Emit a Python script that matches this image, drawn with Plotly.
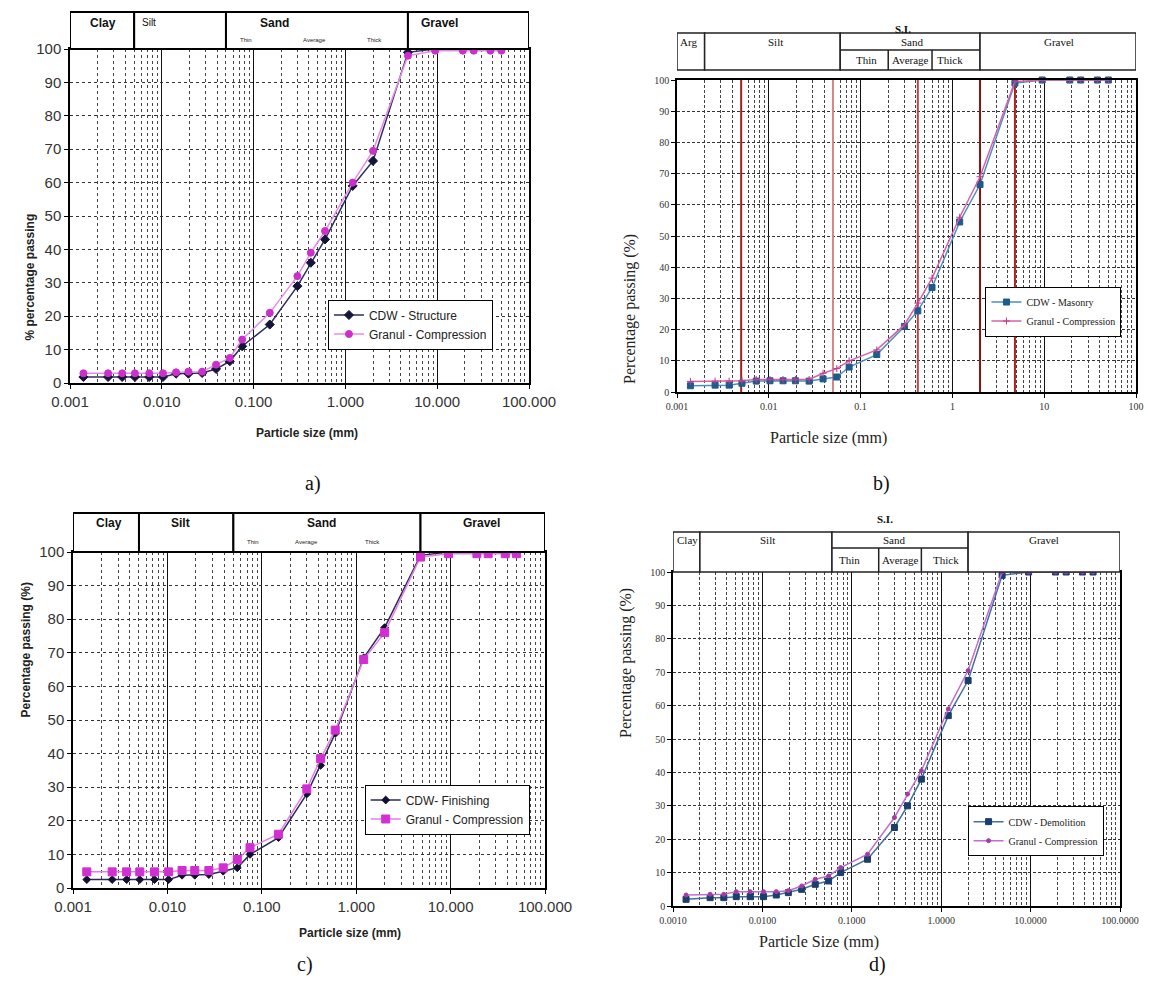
import math
import plotly.graph_objects as go

W, H = 1150, 989

# ---------------- data ----------------
sizes_mm = [0.0014, 0.0026, 0.0037, 0.0051, 0.0073, 0.0103, 0.0143, 0.0195, 0.0275,
            0.039, 0.055, 0.075, 0.15, 0.3, 0.42, 0.6, 1.2, 2.0, 4.8, 9.5, 19, 25, 38, 50]

a_cdw_structure = [1.8, 1.8, 1.8, 1.8, 1.8, 1.8, 2.8, 2.8, 3.0, 4.2, 6.5, 11, 17.5, 29, 36, 43,
                   59, 66.5, 99, 100, 100, 100, 100, 100]
a_granul_compression = [2.9, 2.9, 2.9, 2.9, 2.9, 2.9, 3.2, 3.4, 3.4, 5.5, 7.5, 13, 21, 32, 39,
                        45.5, 60, 69.5, 98, 99.5, 99.5, 99.5, 99.5, 99.5]

b_cdw_masonry = [2.0, 2.2, 2.2, 2.8, 3.5, 3.6, 3.6, 3.6, 3.5, 4.2, 4.8, 8, 12, 21, 26, 33.5,
                 54.5, 66.5, 99, 100, 100, 100, 100, 100]
b_granul_compression = [3.4, 3.5, 3.5, 3.6, 4.0, 4.0, 4.0, 4.0, 4.0, 6.0, 7.5, 10, 13.5, 21.5,
                        28.5, 36.5, 56, 69, 99.5, 100, 100, 100, 100, 100]

c_cdw_finishing = [2.5, 2.5, 2.5, 2.5, 2.5, 2.5, 3.8, 3.8, 4.0, 5.0, 6.0, 10, 15, 28, 36.5, 46,
                   68.5, 77.5, 99, 100, 100, 100, 100, 100]
c_granul_compression = [4.8, 4.8, 4.8, 4.8, 4.8, 4.8, 5.2, 5.2, 5.2, 6.0, 8.5, 12, 16, 29.5,
                        38.5, 47, 68, 76, 98.5, 99.5, 99.5, 99.5, 99.5, 99.5]

d_cdw_demolition = [2.0, 2.5, 2.5, 2.8, 2.8, 2.8, 3.3, 4.0, 5.0, 6.5, 7.5, 10, 14, 23.5, 30, 38,
                    57, 67.5, 99, 100, 100, 100, 100, 100]
d_granul_compression = [3.3, 3.5, 3.5, 4.3, 4.3, 4.3, 4.3, 4.6, 6.0, 8.0, 9.0, 11.5, 15.5, 26.5,
                        33.5, 40.5, 59, 70.5, 100, 100, 100, 100, 100, 100]

# soil classification limits (mm)
old_class_bounds = [0.005, 0.05, 4.8]          # panels a, c
new_class_bounds = [0.002, 0.06, 2.0]          # panels b, d
new_sand_sub_bounds = [0.2, 0.6]               # panels b, d
b_limit_lines = [0.005, 0.05, 0.42, 2.0, 4.8]  # red lines panel b

x_min, x_max = 0.001, 100
tick_vals = [0.001, 0.01, 0.1, 1, 10, 100]
ticktext_ac = ["0.001", "0.010", "0.100", "1.000", "10.000", "100.000"]
ticktext_b = ["0.001", "0.01", "0.1", "1", "10", "100"]
ticktext_d = ["0.0010", "0.0100", "0.1000", "1.0000", "10.0000", "100.0000"]
y_ticks = [0, 10, 20, 30, 40, 50, 60, 70, 80, 90, 100]

labels_old = ["Clay", "Silt", "Sand", "Gravel"]
labels_b = ["Arg", "Silt", "Sand", "Gravel"]
labels_d = ["Clay", "Silt", "Sand", "Gravel"]
sand_sub_labels = ["Thin", "Average", "Thick"]

# ---------------- layout helpers ----------------
SANS = "Liberation Sans, Arial, sans-serif"
SERIF = "Liberation Serif, Times New Roman, serif"


def px_x(p):
    return p / W


def px_y(p):
    return 1 - p / H


fig = go.Figure()
shapes = []
annotations = []

panels = [
    dict(n=1, x0=70, x1=529, y0=49, y1=383, style="old", ticktext=ticktext_ac,
         series=[("CDW - Structure", a_cdw_structure, "#15153a", "#2e2e60", "diamond", 7),
                 ("Granul - Compression", a_granul_compression, "#cc2fcc", "#e88be8", "circle", 7)],
         legend=dict(fx=0.562, fy=0.25, font=dict(family=SANS, size=12, color="#222")),
         head=dict(top=12, row1=23, row2=40),
         head_text=[(0.0023, "center"), (0.0058, "left"), (0.17, "center"), (6.3, "left")],
         sub_text=[0.083, 0.46, 2.1],
         xtitle=("Particle size (mm)", 254, 433), ytitle=("% percentage passing", 20, 212),
         panel_label=("a)", 303, 483)),
    dict(n=2, x0=677, x1=1136, y0=80, y1=392, style="new", ticktext=ticktext_b,
         series=[("CDW - Masonry", b_cdw_masonry, "#1e5a8c", "#4a90c0", "square", 6),
                 ("Granul - Compression", b_granul_compression, "#c03a8a", "#d860a8", "cross-thin", 5)],
         legend=dict(fx=0.672, fy=0.338, font=dict(family=SERIF, size=10, color="#222")),
         head=dict(top=33, mid=50, bottom=70, row1=42, row2=60, si=21),
         head_text=[0.00135, 0.0117, 0.37, 14.5],
         sub_text=[0.115, 0.35, 0.95],
         si_x=913,
         xtitle=("Particle size (mm)", 889, 438), ytitle=("Percentage passing (%)", 630, 232),
         panel_label=("b)", 892, 483)),
    dict(n=3, x0=73, x1=545, y0=552, y1=888, style="old", ticktext=ticktext_ac,
         series=[("CDW- Finishing", c_cdw_finishing, "#101030", "#2a2a55", "diamond", 6),
                 ("Granul - Compression", c_granul_compression, "#d22fd2", "#e77ee7", "square", 8)],
         legend=dict(fx=0.618, fy=0.308, font=dict(family=SANS, size=12, color="#222")),
         head=dict(top=513, row1=523, row2=542),
         head_text=[(0.0024, "center"), (0.0137, "center"), (0.43, "center"), (21, "center")],
         sub_text=[0.081, 0.30, 1.5],
         xtitle=("Particle size (mm)", 297, 942), ytitle=("Percentage passing (%)", 16, 720),
         panel_label=("c)", 295, 978)),
    dict(n=4, x0=673, x1=1120, y0=572, y1=906, style="new", ticktext=ticktext_d,
         series=[("CDW - Demolition", d_cdw_demolition, "#1a3f6e", "#45709e", "square", 6),
                 ("Granul - Compression", d_granul_compression, "#a43ca4", "#c070d0", "circle", 4)],
         legend=dict(fx=0.659, fy=0.299, font=dict(family=SERIF, size=10, color="#222")),
         head=dict(top=532, mid=548, bottom=572, row1=540, row2=560, si=519),
         head_text=[0.00146, 0.0115, 0.30, 14.2],
         sub_text=[0.095, 0.35, 1.13],
         si_x=895,
         xtitle=("Particle Size (mm)", 881, 953), ytitle=("Percentage passing (%)", 626, 740),
         panel_label=("d)", 888, 978)),
]

for p in panels:
    n = p["n"]
    sfx = "" if n == 1 else str(n)
    xref, yref = "x" + sfx, "y" + sfx
    ydom = yref + " domain"
    plot_h = p["y1"] - p["y0"]
    plot_w = p["x1"] - p["x0"]

    def yd(py, p=p, plot_h=plot_h):
        return (p["y1"] - py) / plot_h

    old = p["style"] == "old"
    tick_font = dict(family=SANS, size=15, color="#333") if old else dict(family=SERIF, size=10, color="#333")
    minor_dash = "dot" if old else "3px,2px"

    lg = p["legend"]
    lg_x = p["x0"] + lg["fx"] * plot_w
    lg_y = p["y1"] - lg["fy"] * plot_h

    fig.update_layout(**{
        "xaxis" + sfx: dict(
            domain=[px_x(p["x0"]), px_x(p["x1"])], anchor=yref, type="log",
            range=[math.log10(x_min), math.log10(x_max)], automargin=False,
            tickvals=tick_vals, ticktext=p["ticktext"], tickfont=tick_font,
            showgrid=True, gridcolor="#111", gridwidth=1.3 if not old else 1,
            minor=dict(dtick="D1", showgrid=True, gridcolor="#444", griddash=minor_dash, gridwidth=1),
            showline=True, linecolor="black", linewidth=1.5, mirror=True,
            ticks="outside", ticklen=4, tickcolor="black", zeroline=False,
        ),
        "yaxis" + sfx: dict(
            domain=[px_y(p["y1"]), px_y(p["y0"])], anchor=xref, range=[0, 100], automargin=False,
            tickvals=y_ticks, tickfont=tick_font,
            showgrid=True, gridcolor="#333", griddash="dot" if old else "3px,2px", gridwidth=1.2,
            showline=True, linecolor="black", linewidth=1.5, mirror=True,
            ticks="outside", ticklen=4, tickcolor="black", zeroline=False,
        ),
        ("legend" if n == 1 else "legend" + str(n)): dict(
            x=px_x(lg_x), y=px_y(lg_y), xanchor="left", yanchor="top",
            xref="paper", yref="paper", bgcolor="white", bordercolor="black", borderwidth=1,
            font=lg["font"], tracegroupgap=2,
        ),
    })

    # red classification lines in panel b
    if n == 2:
        red_cols = ["#a02020", "#d08888", "#b04848", "#8b1010", "#b02020"]
        for v, c in zip(b_limit_lines, red_cols):
            fig.add_trace(go.Scatter(x=[v, v], y=[0, 100], mode="lines", xaxis=xref, yaxis=yref,
                                     line=dict(color=c, width=2), showlegend=False, hoverinfo="skip"))

    for name, vals, mcol, lcol, sym, msz in p["series"]:
        fig.add_trace(go.Scatter(
            x=sizes_mm, y=vals, mode="lines+markers", name=name, xaxis=xref, yaxis=yref,
            line=dict(color=lcol, width=1.5),
            marker=dict(symbol=sym, size=msz, color=mcol, line=dict(color=mcol, width=1)),
            legend="legend" if n == 1 else "legend" + str(n), cliponaxis=False,
        ))

    hd = p["head"]
    lw = 2 if old else 1.5
    if old:
        edges = [x_min] + old_class_bounds + [x_max]
        top = yd(hd["top"])
        for xa, xb in zip(edges[:-1], edges[1:]):
            shapes.append(dict(type="rect", xref=xref, yref=ydom, x0=xa, x1=xb, y0=1.0, y1=top,
                               line=dict(color="black", width=lw), fillcolor="white", layer="above"))
        for (xv, anc), lab in zip(p["head_text"], labels_old):
            plain = (lab == "Silt" and n == 1)
            annotations.append(dict(xref=xref, yref=ydom, x=math.log10(xv), y=yd(hd["row1"]),
                                    text=lab if plain else "<b>%s</b>" % lab,
                                    showarrow=False, xanchor=anc, yanchor="middle",
                                    font=dict(family=SANS, size=10 if plain else 12, color="#111")))
        for xv, lab in zip(p["sub_text"], sand_sub_labels):
            annotations.append(dict(xref=xref, yref=ydom, x=math.log10(xv), y=yd(hd["row2"]), text=lab,
                                    showarrow=False, xanchor="center", yanchor="middle",
                                    font=dict(family=SANS, size=6, color="#222")))
    else:
        edges = [x_min] + new_class_bounds + [x_max]
        top, mid, bot = yd(hd["top"]), yd(hd["mid"]), yd(hd["bottom"])
        for xa, xb in zip(edges[:-1], edges[1:]):
            shapes.append(dict(type="rect", xref=xref, yref=ydom, x0=xa, x1=xb, y0=bot, y1=top,
                               line=dict(color="#222", width=lw), fillcolor="white", layer="above"))
        shapes.append(dict(type="line", xref=xref, yref=ydom, x0=new_class_bounds[1], x1=new_class_bounds[2],
                           y0=mid, y1=mid, line=dict(color="#222", width=lw)))
        for v in new_sand_sub_bounds:
            shapes.append(dict(type="line", xref=xref, yref=ydom, x0=v, x1=v, y0=bot, y1=mid,
                               line=dict(color="#222", width=lw)))
        labs = labels_b if n == 2 else labels_d
        for xv, lab in zip(p["head_text"], labs):
            annotations.append(dict(xref=xref, yref=ydom, x=math.log10(xv), y=yd(hd["row1"]), text=lab,
                                    showarrow=False, xanchor="center", yanchor="middle",
                                    font=dict(family=SERIF, size=11, color="#111")))
        for xv, lab in zip(p["sub_text"], sand_sub_labels):
            annotations.append(dict(xref=xref, yref=ydom, x=math.log10(xv), y=yd(hd["row2"]), text=lab,
                                    showarrow=False, xanchor="center", yanchor="middle",
                                    font=dict(family=SERIF, size=11, color="#111")))
        annotations.append(dict(xref="paper", yref="paper", x=px_x(p["si_x"]),
                                y=px_y(hd["si"]), text="<b>S.I.</b>", showarrow=False,
                                font=dict(family=SERIF, size=11, color="#111")))

    # axis titles and panel label
    t, tx, ty = p["xtitle"]
    tf = dict(family=SANS, size=12, color="#222") if old else dict(family=SERIF, size=16, color="#222")
    annotations.append(dict(xref="paper", yref="paper", x=px_x(tx), y=px_y(ty),
                            text="<b>%s</b>" % t if old else t, showarrow=False, font=tf))
    t, tx, ty = p["ytitle"]
    annotations.append(dict(xref="paper", yref="paper", x=px_x(tx), y=px_y(ty),
                            text="<b>%s</b>" % t if old else t, showarrow=False, textangle=-90, font=tf))
    t, tx, ty = p["panel_label"]
    annotations.append(dict(xref="paper", yref="paper", x=px_x(tx), y=px_y(ty), text=t, showarrow=False,
                            font=dict(family=SERIF, size=20, color="#111")))

fig.update_layout(
    width=W, height=H, margin=dict(l=0, r=0, t=0, b=0, pad=0, autoexpand=False),
    paper_bgcolor="white", plot_bgcolor="white",
    shapes=shapes, annotations=annotations, showlegend=True,
)

fig.write_html("out.html")
